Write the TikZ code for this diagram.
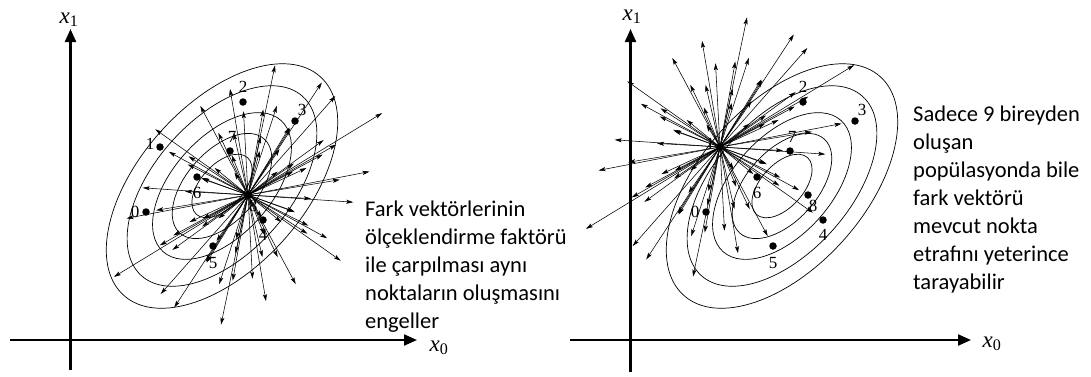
\documentclass[tikz,border=0pt]{standalone}
\usepackage{fontspec}
\setmainfont{Liberation Serif}
\newfontfamily\calibri{Carlito}
\usetikzlibrary{arrows.meta}
\begin{document}
\begin{tikzpicture}[x=1pt,y=-1pt,
  axisline/.style={line width=2.2pt,-{Triangle[length=13pt,width=11pt]}},
  contour/.style={line width=0.7pt},
  dvec/.style={line width=0.55pt,-{Stealth[length=7pt,width=4pt,inset=1.5pt]}},
  dotpt/.style={circle,fill=black,inner sep=0pt,minimum size=7.5pt},
  plabel/.style={font=\fontsize{17}{17}\selectfont,inner sep=0pt},
  axlabel/.style={font=\fontsize{23}{23}\selectfont\itshape,inner sep=0pt,anchor=base},
  note/.style={font=\calibri\fontsize{22.5}{28}\selectfont,align=left,anchor=north west,inner sep=0pt}
]
\useasboundingbox (0,0) rectangle (1091,376);
\def\PX{{146,160,243,295,263,213,197,230,248}}
\def\PY{{212,147,102,121,220,246,177,151,195}}
\def\LX{{-11,-10,0,7,0,0,0,2,5}}
\def\LY{{0,-3,-15,-11,15,17,16,-14,11}}

% ---------- axes ----------
\coordinate (oxL) at (10,340);  \coordinate (exL) at (417,340);
\coordinate (oyL) at (70.5,370); \coordinate (eyL) at (70.5,29);
\draw[axisline] (oxL) -- (exL);
\draw[axisline] (oyL) -- (eyL);
\node[axlabel] (x1L) at (69,23) {x\textsubscript{\normalfont 1}};
\node[axlabel] (x0L) at (439,351) {x\textsubscript{\normalfont 0}};

\coordinate (oxR) at (570,340);  \coordinate (exR) at (971,340);
\coordinate (oyR) at (630.5,372); \coordinate (eyR) at (630.5,29);
\draw[axisline] (oxR) -- (exR);
\draw[axisline] (oyR) -- (eyR);
\node[axlabel] (x1R) at (632,20) {x\textsubscript{\normalfont 1}};
\node[axlabel] (x0R) at (992,347) {x\textsubscript{\normalfont 0}};

% ---------- contours ----------
\foreach \side/\sx in {L/0,R/560}{
  \coordinate (E\side) at (222+\sx,186);
  \foreach \s in {1,0.82,0.6,0.43,0.26}{
    \draw[contour,rotate around={48:(E\side)}] (E\side) ellipse [x radius=147*\s, y radius=82*\s];
  }
  % population points
  \foreach \i in {0,...,8}{
    \pgfmathsetmacro\px{\PX[\i]+\sx}
    \pgfmathsetmacro\py{\PY[\i]}
    \pgfmathsetmacro\lx{\LX[\i]}
    \pgfmathsetmacro\ly{\LY[\i]}
    \node[dotpt] (p\side\i) at (\px,\py) {};
    \node[plabel] (l\side\i) at (\px+\lx,\py+\ly) {\i};
  }
}

% ---------- difference vectors ----------
\coordinate (cL) at (248,195);
\coordinate (cR) at (720,147);
\foreach \side in {L,R}{
  \foreach \i in {0,...,8}{
    \foreach \j in {0,...,8}{
      \ifnum\i=\j\else
        \pgfmathsetmacro\dx{0.9*(\PX[\i]-\PX[\j])}
        \pgfmathsetmacro\dy{0.9*(\PY[\i]-\PY[\j])}
        \coordinate (t\side-\i-\j) at ([shift={(\dx,\dy)}]c\side);
        \draw[dvec] (c\side) -- (t\side-\i-\j);
      \fi
    }
  }
}

% ---------- notes ----------
\node[note] (noteL) at (365,201) {Fark vektörlerinin\\ölçeklendirme faktörü\\ile çarpılması aynı\\noktaların oluşmasını\\engeller};
\node[note] (noteR) at (913,106) {Sadece 9 bireyden\\oluşan\\popülasyonda bile\\fark vektörü\\mevcut nokta\\etrafını yeterince\\tarayabilir};
\end{tikzpicture}
\end{document}
